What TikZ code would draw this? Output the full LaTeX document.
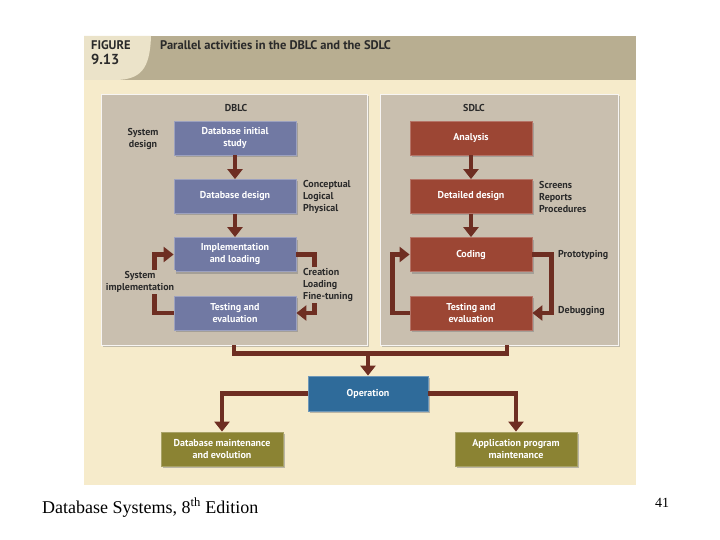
\documentclass[tikz,border=0pt]{standalone}
\usepackage{fontspec}
\setmainfont{Liberation Serif}
\newfontfamily\dsans{PT Sans}
\usetikzlibrary{arrows.meta,shadows,calc}
\definecolor{bgcream}{HTML}{F6EBCB}
\definecolor{hband}{HTML}{B8AE91}
\definecolor{hpatch}{HTML}{EBE3C9}
\definecolor{panelc}{HTML}{C9BFAF}
\definecolor{blueg}{HTML}{7179A3}
\definecolor{redb}{HTML}{9C4634}
\definecolor{opblue}{HTML}{2F6B9A}
\definecolor{olive}{HTML}{8B8333}
\definecolor{arrc}{HTML}{6E2E22}
\definecolor{txtd}{HTML}{2A2A2A}
\tikzset{
  panel/.style={fill=panelc, draw=white!85!panelc, line width=0.8pt, drop shadow={shadow xshift=2pt, shadow yshift=-2pt, opacity=0.45}},
  boxbase/.style={minimum width=122pt, minimum height=34pt, align=center, text=white,
     font=\dsans\bfseries\fontsize{10}{12}\selectfont, inner sep=1pt,
     drop shadow={shadow xshift=2pt, shadow yshift=-2pt, opacity=0.5}},
  bluebox/.style={boxbase, fill=blueg, draw=blueg!70!white, line width=0.8pt},
  redbox/.style={boxbase, fill=redb, draw=redb!75!white, line width=0.8pt},
  opbox/.style={boxbase, minimum width=120pt, minimum height=35pt, fill=opblue, draw=opblue!70!white, line width=0.8pt},
  olivebox/.style={boxbase, fill=olive, draw=olive!75!white, line width=0.8pt},
  lbl/.style={font=\dsans\bfseries\fontsize{10}{12}\selectfont, text=txtd, inner sep=0pt},
  gaplbl/.style={lbl, fill=panelc, inner sep=1.5pt},
  ptitle/.style={font=\dsans\bfseries\fontsize{10}{12}\selectfont, text=txtd, inner sep=0pt},
  arr/.style={draw=arrc, line width=4.5pt, line join=miter, -{Triangle[width=15pt,length=10pt]}},
  plainline/.style={draw=arrc, line width=4.5pt, line join=miter}
}
\begin{document}
\begin{tikzpicture}[x=1pt,y=-1pt]
\useasboundingbox (0,0) rectangle (720,540);
\fill[white] (0,0) rectangle (720,540);
% figure background
\fill[bgcream] (84,36) rectangle (636,485);
\fill[hband] (84,36) rectangle (636,80);
\fill[hpatch] (84,36) -- (151,36) .. controls (150,70) and (140,79) .. (117,80) -- (84,80) -- cycle;
\node[font=\dsans\bfseries\fontsize{12.5}{13}\selectfont, text=txtd, anchor=west, inner sep=0pt] (fig) at (91,45) {FIGURE};
\node[font=\dsans\bfseries\fontsize{14.5}{15}\selectfont, text=txtd, anchor=west, inner sep=0pt] (fignum) at (91,59) {9.13};
\node[font=\dsans\bfseries\fontsize{12.5}{14}\selectfont, text=txtd, anchor=west, inner sep=0pt] (title) at (160,45) {Parallel activities in the DBLC and the SDLC};
% panels
\node[panel, minimum width=266pt, minimum height=251pt, inner sep=0pt] (dblc) at (234,219.5) {};
\node[panel, minimum width=238pt, minimum height=251pt, inner sep=0pt] (sdlc) at (499,219.5) {};
\node[ptitle] (dblct) at (236,108) {DBLC};
\node[ptitle] (sdlct) at (474,108) {SDLC};
% DBLC boxes
\node[bluebox] (dinit) at (235,138) {Database initial\\study};
\node[bluebox] (ddes) at (235,196.5) {Database design};
\node[bluebox] (dimpl) at (235,254.5) {Implementation\\and loading};
\node[bluebox] (dtest) at (235,313) {Testing and\\evaluation};
% SDLC boxes
\node[redbox] (san) at (471,138) {Analysis};
\node[redbox] (sdes) at (471,196.5) {Detailed design};
\node[redbox] (scod) at (471,254.5) {Coding};
\node[redbox] (stest) at (471,313) {Testing and\\evaluation};
% bottom boxes
\node[opbox] (op) at (368,393.5) {Operation};
\node[olivebox] (dbm) at (222,449) {Database maintenance\\and evolution};
\node[olivebox] (apm) at (516,449) {Application program\\maintenance};
% arrows DBLC
\draw[arr] (dinit) -- (ddes);
\draw[arr] (ddes) -- (dimpl);
\draw[arr] (dimpl.east) -- ++(18,0) |- (dtest.east);
\draw[arr] (dtest.west) -- ++(-19,0) |- (dimpl.west);
% arrows SDLC
\draw[arr] (san) -- (sdes);
\draw[arr] (sdes) -- (scod);
\draw[arr] (scod.east) -- ++(19,0) |- (stest.east);
\draw[arr] (stest.west) -- ++(-17,0) |- (scod.west);
% labels
\node[lbl, align=center] (sysdes) at (143,139) {System\\design};
\node[lbl, align=left, anchor=west] (clp) at (303,197) {Conceptual\\Logical\\Physical};
\node[gaplbl, align=center] (sysimp) at (140,282) {System\\implementation};
\node[gaplbl, align=left, anchor=west, inner xsep=0pt] (clf) at (303,285) {Creation\\Loading\\Fine-tuning};
\node[lbl, align=left, anchor=west] (srp) at (539,197) {Screens\\Reports\\Procedures};
\node[lbl, anchor=west] (proto) at (558,255) {Prototyping};
\node[lbl, anchor=west] (debug) at (558,311) {Debugging};
% to operation
\coordinate (jl) at ($(dblc.south)+(0,8)$);
\coordinate (jr) at ($(sdlc.south)+(8,8)$);
\coordinate (jtop) at ($(sdlc.south)+(8,0)$);
\coordinate (jop) at (op.north |- jl);
\draw[plainline] (dblc.south) -- (jl) -- (jr) -- (jtop);
\draw[arr] (jop) -- (op.north);
\draw[arr] (op.west) -| (dbm.north);
\draw[arr] (op.east) -| (apm.north);
% footer
\node[font=\fontsize{18}{20}\selectfont, anchor=west, inner sep=0pt] (foot) at (42,507.5) {Database Systems, 8\textsuperscript{th} Edition};
\node[font=\fontsize{14}{16}\selectfont, inner sep=0pt] (pg) at (662,503) {41};
\end{tikzpicture}
\end{document}
